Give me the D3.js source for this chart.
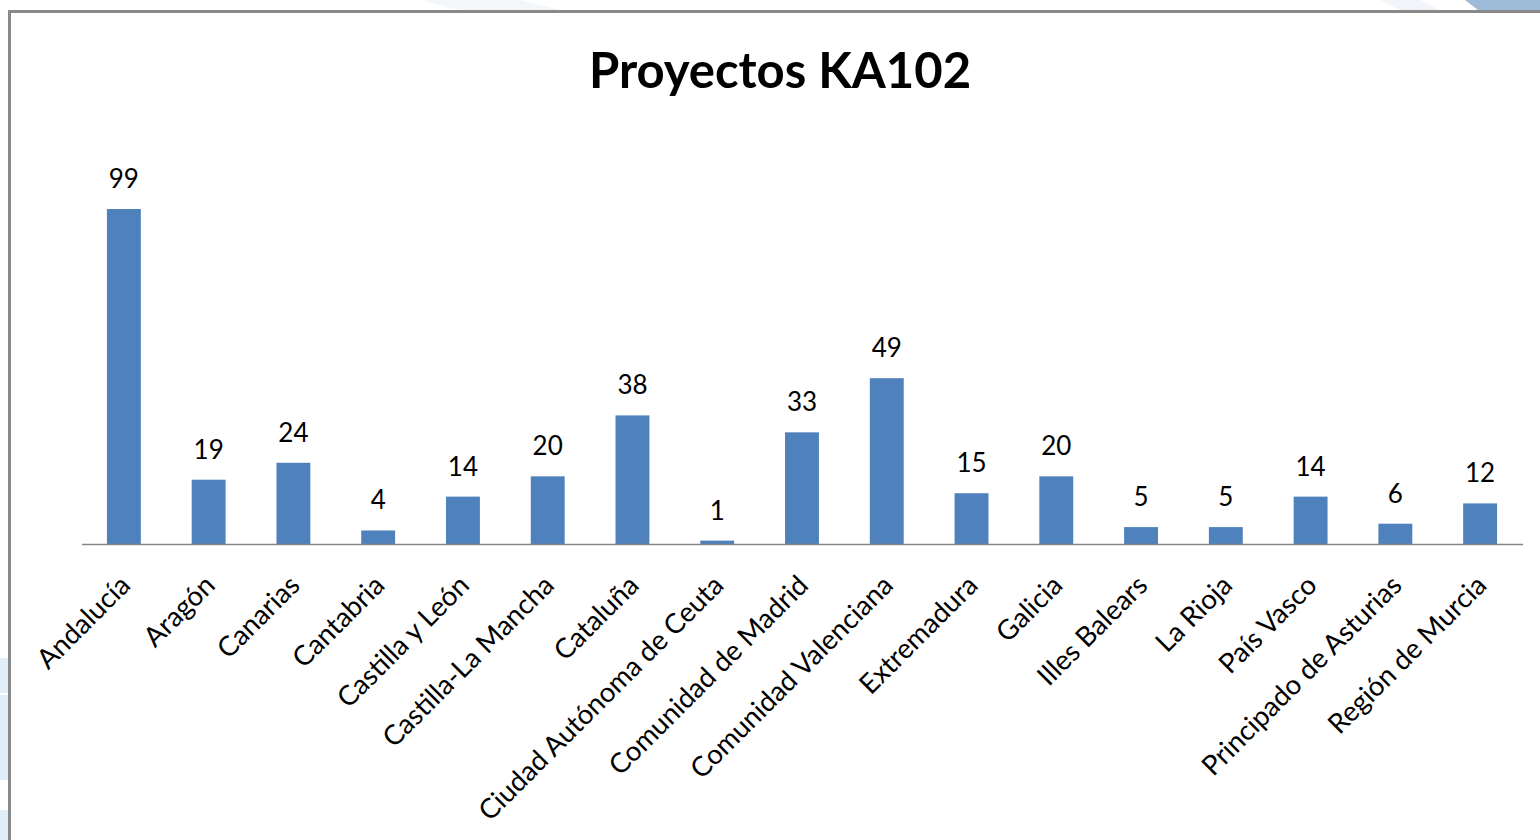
<!DOCTYPE html>
<html>
<head>
<meta charset="utf-8">
<script src="https://cdn.jsdelivr.net/npm/d3@7"></script>
<style>
  html, body { margin: 0; padding: 0; background: #ffffff; }
  svg { display: block; }
  text { font-family: Lato, "Open Sans", "Liberation Sans", sans-serif; fill: #000; }
</style>
</head>
<body>
<svg id="chart" width="1540" height="840"></svg>
<script>
const title = "Proyectos KA102";
const categories = [
  "Andalucía", "Aragón", "Canarias", "Cantabria", "Castilla y León",
  "Castilla-La Mancha", "Cataluña", "Ciudad Autónoma de Ceuta",
  "Comunidad de Madrid", "Comunidad Valenciana", "Extremadura", "Galicia",
  "Illes Balears", "La Rioja", "País Vasco", "Principado de Asturias",
  "Región de Murcia"
];
const values = [99, 19, 24, 4, 14, 20, 38, 1, 33, 49, 15, 20, 5, 5, 14, 6, 12];

const svg = d3.select("#chart");

// background decorations (slide behind the chart frame)
const deco = svg.append("g");
deco.append("polygon")
  .attr("points", "1465,0 1540,0 1540,10 1478,10")
  .attr("fill", "#9dbbd9");
deco.append("polygon")
  .attr("points", "1380,0 1420,0 1440,10 1400,10")
  .attr("fill", "#f2f5f9");
deco.append("polygon")
  .attr("points", "420,0 520,0 560,10 460,10")
  .attr("fill", "#f4f7fa");
deco.append("rect").attr("x", 0).attr("y", 658).attr("width", 8).attr("height", 185).attr("fill", "#e3eff8");
deco.append("rect").attr("x", 0).attr("y", 693).attr("width", 8).attr("height", 2).attr("fill", "#ffffff");
deco.append("rect").attr("x", 0).attr("y", 780).attr("width", 8).attr("height", 30).attr("fill", "#ffffff");

// chart frame
svg.append("rect")
  .attr("x", 9.5).attr("y", 11.5)
  .attr("width", 1600).attr("height", 900)
  .attr("fill", "#ffffff")
  .attr("stroke", "#898989")
  .attr("stroke-width", 3);

const margin = { left: 81.5, right: 1522.5, top: 209, bottom: 544 };

const x = d3.scaleBand()
  .domain(categories)
  .range([margin.left, margin.right])
  .paddingInner(0.6)
  .paddingOuter(0.3);

const y = d3.scaleLinear()
  .domain([0, 99])
  .range([margin.bottom, margin.top]);

// title
svg.append("text")
  .attr("x", 780)
  .attr("y", 88)
  .attr("text-anchor", "middle")
  .style("font-size", "49px")
  .style("font-weight", "bold")
  .text(title);

// bars
svg.append("g").selectAll("rect")
  .data(values)
  .join("rect")
  .attr("x", (d, i) => x(categories[i]))
  .attr("y", d => y(d))
  .attr("width", x.bandwidth())
  .attr("height", d => y(0) - y(d))
  .attr("fill", "#4f81bd");

// baseline axis
const axis = d3.axisBottom(x).tickSize(0).tickFormat("");
const gAxis = svg.append("g")
  .attr("transform", `translate(0,${margin.bottom})`)
  .call(axis);
gAxis.select(".domain").attr("stroke", "#868686").attr("stroke-width", 1.5);

// value labels
svg.append("g").selectAll("text")
  .data(values)
  .join("text")
  .attr("x", (d, i) => x(categories[i]) + x.bandwidth() / 2)
  .attr("y", d => y(d) - 21)
  .attr("text-anchor", "middle")
  .style("font-size", "26px")
  .text(d => d);

// category labels
svg.append("g").selectAll("text")
  .data(categories)
  .join("text")
  .attr("transform", d => `translate(${x(d) + x.bandwidth() / 2 + 8},587) rotate(-45)`)
  .attr("text-anchor", "end")
  .style("font-size", "27.5px")
  .text(d => d);
</script>
</body>
</html>
